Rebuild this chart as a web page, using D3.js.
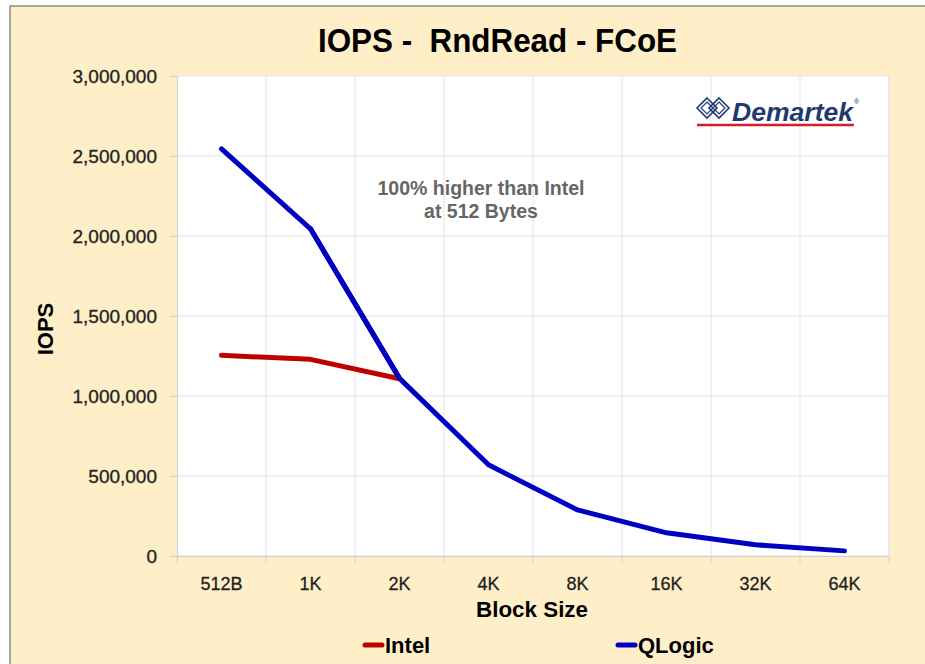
<!DOCTYPE html>
<html><head><meta charset="utf-8">
<script src="https://cdn.jsdelivr.net/npm/d3@7"></script>
<style>
html,body{margin:0;padding:0;background:#fff;}
svg{display:block;}
</style></head>
<body>
<svg id="c" width="925" height="664"></svg>
<script>
const categories = ["512B","1K","2K","4K","8K","16K","32K","64K"];
const qlogic = [2545000, 2045000, 1110000, 570000, 288000, 145000, 70000, 32000];
const intel = [1254000, 1229000, 1108000];
const yTicks = [0, 500000, 1000000, 1500000, 2000000, 2500000, 3000000];

const svg = d3.select("#c");
const sans = "'Liberation Sans',Arial,sans-serif";

svg.append("rect").attr("x",10).attr("y",6).attr("width",925).attr("height",664)
  .attr("fill","#FFEFC9").attr("stroke","#8c8c8c").attr("stroke-width",1.5);

const m = {l:177, r:889, t:76, b:556};
svg.append("rect").attr("x",m.l).attr("y",m.t).attr("width",m.r-m.l).attr("height",m.b-m.t).attr("fill","#fff");

const x = d3.scaleBand().domain(categories).range([m.l,m.r]);
const y = d3.scaleLinear().domain([0,3000000]).range([m.b,m.t]);

// gridlines
const g = svg.append("g");
g.selectAll("line.h").data(yTicks).join("line")
  .attr("x1",m.l).attr("x2",m.r).attr("y1",d=>y(d)).attr("y2",d=>y(d))
  .attr("stroke","#e4e4e4").attr("stroke-width",1);
g.selectAll("line.v").data(categories.slice(1)).join("line")
  .attr("x1",d=>x(d)).attr("x2",d=>x(d)).attr("y1",m.t).attr("y2",m.b)
  .attr("stroke","#e4e4e4").attr("stroke-width",1);
svg.append("line").attr("x1",m.r).attr("x2",m.r).attr("y1",m.t).attr("y2",m.b).attr("stroke","#d8d8d8");

// axes
const ya = svg.append("g").attr("transform",`translate(${m.l},0)`)
  .call(d3.axisLeft(y).tickValues(yTicks).tickFormat(d3.format(",")).tickSize(7).tickPadding(13));
ya.select(".domain").attr("stroke","#d0d0d0");
ya.selectAll(".tick line").attr("stroke","#d0d0d0");
ya.selectAll("text").attr("font-family",sans).attr("font-size",19).attr("fill","#222")
  .attr("stroke","#222").attr("stroke-width",0.3);

const xa = svg.append("g").attr("transform",`translate(0,${m.b})`)
  .call(d3.axisBottom(x).tickSize(0).tickPadding(21));
xa.select(".domain").attr("stroke","#d0d0d0");
xa.selectAll("text").attr("font-family",sans).attr("font-size",18).attr("fill","#222")
  .attr("stroke","#222").attr("stroke-width",0.3);
svg.append("g").selectAll("line").data(categories.concat(["end"])).join("line")
  .attr("x1",(d,i)=> i<categories.length ? x(d) : m.r)
  .attr("x2",(d,i)=> i<categories.length ? x(d) : m.r)
  .attr("y1",m.b).attr("y2",m.b+7).attr("stroke","#d0d0d0");

// lines
const line = d3.line().x((d,i)=>x(categories[i])+x.bandwidth()/2).y(d=>y(d));
svg.append("path").datum(qlogic).attr("d",line).attr("fill","none")
  .attr("stroke","#0000C0").attr("stroke-width",5).attr("stroke-linejoin","round").attr("stroke-linecap","round");
svg.append("path").datum(intel).attr("d",line).attr("fill","none")
  .attr("stroke","#C00000").attr("stroke-width",5).attr("stroke-linejoin","round").attr("stroke-linecap","round");
svg.append("path").datum(qlogic.slice(1,3)).attr("d",d3.line().x((d,i)=>x(categories[i+1])+x.bandwidth()/2).y(d=>y(d)))
  .attr("fill","none").attr("stroke","#0000C0").attr("stroke-width",5).attr("stroke-linecap","round");

// title
svg.append("text").attr("x",497.5).attr("y",52).attr("text-anchor","middle")
  .attr("font-family",sans).attr("font-weight","bold").attr("font-size",33.5).attr("fill","#000")
  .attr("textLength",359).attr("lengthAdjust","spacingAndGlyphs")
  .attr("xml:space","preserve").text("IOPS -  RndRead - FCoE");

// axis titles
svg.append("text").attr("transform","translate(53,329) rotate(-90)").attr("text-anchor","middle")
  .attr("font-family",sans).attr("font-weight","bold").attr("font-size",22).attr("fill","#000").text("IOPS");
svg.append("text").attr("x",532).attr("y",617).attr("text-anchor","middle")
  .attr("font-family",sans).attr("font-weight","bold").attr("font-size",22).attr("fill","#000")
  .attr("textLength",112).attr("lengthAdjust","spacingAndGlyphs").text("Block Size");

// annotation
const ann = svg.append("text").attr("text-anchor","middle").attr("font-family",sans)
  .attr("font-weight","bold").attr("font-size",19.5).attr("fill","#666");
ann.append("tspan").attr("x",481).attr("y",195).text("100% higher than Intel");
ann.append("tspan").attr("x",481).attr("y",218).text("at 512 Bytes");

// legend
const legend = [{name:"Intel",color:"#C00000",x:363},{name:"QLogic",color:"#0000C0",x:616}];
legend.forEach(l=>{
  svg.append("line").attr("x1",l.x+2).attr("x2",l.x+19).attr("y1",645).attr("y2",645)
    .attr("stroke",l.color).attr("stroke-width",5).attr("stroke-linecap","round");
  svg.append("text").attr("x",l.x+22).attr("y",653).attr("font-family",sans).attr("font-weight","bold")
    .attr("font-size",22).attr("fill","#000").text(l.name);
});

// logo
const logo = svg.append("g");
const dm = (cx,cy,s)=>`M${cx},${cy-s}L${cx+s},${cy}L${cx},${cy+s}L${cx-s},${cy}Z`;
[[707,108],[719,108]].forEach(([cx,cy])=>{
  logo.append("path").attr("d",dm(cx,cy,10)).attr("fill","none").attr("stroke","#1F3A6E").attr("stroke-width",1.6);
  logo.append("path").attr("d",dm(cx,cy,6)).attr("fill","none").attr("stroke","#1F3A6E").attr("stroke-width",1.2);
});
logo.append("text").attr("x",732).attr("y",121).attr("font-family",sans).attr("font-weight","bold")
  .attr("font-style","italic").attr("font-size",25).attr("fill","#1F3A6E")
  .attr("textLength",121).attr("lengthAdjust","spacingAndGlyphs").text("Demartek");
logo.append("text").attr("x",854).attr("y",104).attr("font-family",sans).attr("font-size",7).attr("fill","#1F3A6E").text("®");
logo.append("line").attr("x1",697).attr("x2",854).attr("y1",125).attr("y2",125).attr("stroke","#D0202A").attr("stroke-width",2.5);
</script>
</body></html>
